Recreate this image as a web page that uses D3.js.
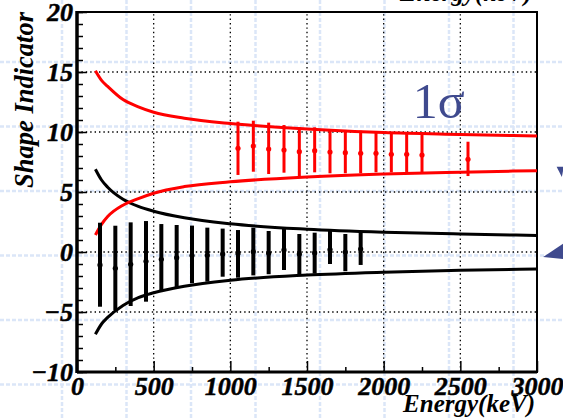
<!DOCTYPE html>
<html>
<head>
<meta charset="utf-8">
<script src="https://cdn.jsdelivr.net/npm/d3@7"></script>
<style>
  body { margin: 0; background: #fff; }
  svg { display: block; }
</style>
</head>
<body>
<div id="chart"></div>
<script>
// curves (energy in keV -> shape indicator)
const curveE = [120, 160, 200, 300, 400, 500, 700, 1000, 1500, 2000, 2500, 3000];
const blackUpper = [6.9, 6.0, 5.4, 4.4, 3.8, 3.4, 2.85, 2.35, 1.9, 1.65, 1.5, 1.38];
const blackLower = [-6.86, -6.0, -5.45, -4.45, -3.8, -3.4, -2.85, -2.35, -1.92, -1.68, -1.52, -1.42];
const redUpper = [15.1, 14.3, 13.8, 12.7, 12.1, 11.65, 11.15, 10.7, 10.25, 9.95, 9.8, 9.67];
const redLower = [1.42, 2.3, 2.95, 3.9, 4.45, 4.9, 5.45, 5.85, 6.25, 6.5, 6.65, 6.78];

// black points with error bars
const blackE = [150, 250, 350, 450, 550, 650, 750, 850, 950, 1050, 1150, 1250, 1350, 1450, 1550, 1650, 1750, 1850];
const blackMid = [-1.08, -1.36, -1.03, -0.78, -0.61, -0.47, -0.3, -0.28, -0.17, -0.14, 0.03, -0.11, 0.17, -0.17, -0.08, 0.2, 0.0, 0.25];
const blackHi = [2.44, 2.19, 2.47, 2.58, 2.33, 2.25, 2.2, 2.03, 1.95, 1.83, 2.03, 1.75, 1.97, 1.5, 1.61, 1.83, 1.5, 1.69];
const blackLo = [-4.56, -4.85, -4.5, -4.14, -3.22, -3.0, -2.6, -2.47, -2.06, -2.14, -1.95, -1.85, -1.5, -1.85, -1.8, -1.0, -1.6, -1.08];

// red points with error bars
const redE = [1050, 1150, 1250, 1350, 1450, 1550, 1650, 1750, 1850, 1950, 2050, 2150, 2250, 2550];
const redMid = [8.64, 8.83, 8.58, 8.5, 8.36, 8.44, 8.33, 8.28, 8.22, 8.22, 8.14, 8.14, 8.08, 7.72];
const redHi = [10.86, 10.94, 10.78, 10.58, 10.39, 10.39, 10.22, 10.17, 10.11, 9.94, 9.89, 9.89, 9.89, 9.19];
const redLo = [6.42, 6.69, 6.5, 6.61, 6.28, 6.64, 6.56, 6.56, 6.56, 6.64, 6.64, 6.67, 6.61, 6.33];

const yTicks = [-10, -5, 0, 5, 10, 15, 20];
const xTicks = [0, 500, 1000, 1500, 2000, 2500, 3000];
const gridY = [-5, 0, 5, 10, 15];
const gridX = [500, 1000, 1500, 2000, 2500];

const W = 563, H = 419;
const margin = {top: 12, right: 26, bottom: 47, left: 77};
const serif = '"Liberation Serif", "Times New Roman", serif';

const svg = d3.select("#chart").append("svg")
    .attr("width", W)
    .attr("height", H);

// slide background: light blue dashed grid
const bg = svg.append("g");
const bgStep = 64.5;
bg.selectAll(".bgv")
    .data(d3.range(62, W, bgStep))
    .join("line")
    .attr("x1", d => d).attr("x2", d => d)
    .attr("y1", 0).attr("y2", H);
bg.selectAll(".bgh")
    .data(d3.range(-2.5, H, bgStep))
    .join("line")
    .attr("y1", d => d).attr("y2", d => d)
    .attr("x1", 0).attr("x2", W);
bg.selectAll("line")
    .attr("stroke", "#dbe6f8")
    .attr("stroke-width", 2.5)
    .attr("stroke-dasharray", "4,2");

const x = d3.scaleLinear().domain([0, 3000]).range([margin.left, W - margin.right]);
const y = d3.scaleLinear().domain([-10, 20]).range([H - margin.bottom, margin.top]);

// dotted grid
svg.append("g").selectAll("line")
    .data(gridY)
    .join("line")
    .attr("x1", x(0)).attr("x2", x(3000))
    .attr("y1", d => y(d)).attr("y2", d => y(d))
    .attr("stroke", "#000").attr("stroke-width", 1.3)
    .attr("stroke-dasharray", "1.4,3");
svg.append("g").selectAll("line")
    .data(gridX)
    .join("line")
    .attr("y1", y(-10)).attr("y2", y(20))
    .attr("x1", d => x(d)).attr("x2", d => x(d))
    .attr("stroke", "#000").attr("stroke-width", 1.3)
    .attr("stroke-dasharray", "1.4,3");

// axes (ticks pointing inward)
const yMinor = svg.append("g")
    .attr("transform", `translate(${x(0)},0)`)
    .call(d3.axisLeft(y).tickValues(d3.range(-10, 21, 1)).tickSize(-6).tickSizeOuter(0).tickFormat(""));
const yAxis = svg.append("g")
    .attr("transform", `translate(${x(0)},0)`)
    .call(d3.axisLeft(y).tickValues(yTicks).tickSize(-10).tickSizeOuter(0).tickPadding(4).tickFormat(d3.format("d")));
const xMinor = svg.append("g")
    .attr("transform", `translate(0,${y(-10)})`)
    .call(d3.axisBottom(x).tickValues(d3.range(250, 3000, 500)).tickSize(-5).tickSizeOuter(0).tickFormat(""));
const xAxis = svg.append("g")
    .attr("transform", `translate(0,${y(-10)})`)
    .call(d3.axisBottom(x).tickValues(xTicks).tickSize(-11).tickSizeOuter(0).tickPadding(5).tickFormat(d3.format("d")));
[yMinor, yAxis, xMinor, xAxis].forEach(g => {
    g.select(".domain").remove();
    g.selectAll(".tick line").attr("stroke", "#000").attr("stroke-width", 1.5);
    g.selectAll(".tick text")
        .attr("fill", "#000")
        .attr("stroke", "#000")
        .attr("stroke-width", 0.5)
        .style("font-family", serif)
        .style("font-weight", "bold")
        .style("font-style", "italic")
        .style("font-size", "26px");
});
yAxis.selectAll(".tick text").attr("dy", "0.34em");

// frame
svg.append("rect")
    .attr("x", x(0)).attr("y", y(20))
    .attr("width", x(3000) - x(0)).attr("height", y(-10) - y(20))
    .attr("fill", "none").attr("stroke", "#000").attr("stroke-width", 2);
svg.append("line")
    .attr("x1", x(0)).attr("x2", x(0)).attr("y1", y(20) - 1).attr("y2", y(-10) + 1)
    .attr("stroke", "#000").attr("stroke-width", 3.5);
svg.append("line")
    .attr("x1", x(0)).attr("x2", x(3000)).attr("y1", y(-10)).attr("y2", y(-10))
    .attr("stroke", "#000").attr("stroke-width", 3);

// envelope curves
const line = d3.line()
    .curve(d3.curveMonotoneX)
    .x(d => x(d[0]))
    .y(d => y(d[1]));
const curves = [
    {vals: blackUpper, color: "#000"},
    {vals: blackLower, color: "#000"},
    {vals: redUpper, color: "#ff0000"},
    {vals: redLower, color: "#ff0000"}
];
svg.append("g").selectAll("path")
    .data(curves)
    .join("path")
    .attr("d", c => line(curveE.map((e, i) => [e, c.vals[i]])))
    .attr("fill", "none")
    .attr("stroke", c => c.color)
    .attr("stroke-width", 3);

// error bars
function drawPoints(E, mid, hi, lo, color, w, r) {
    const pts = E.map((e, i) => ({e: e, m: mid[i], h: hi[i], l: lo[i]}));
    const g = svg.append("g");
    g.selectAll("line")
        .data(pts)
        .join("line")
        .attr("x1", d => x(d.e)).attr("x2", d => x(d.e))
        .attr("y1", d => y(d.h)).attr("y2", d => y(d.l))
        .attr("stroke", color).attr("stroke-width", w);
    g.selectAll("circle")
        .data(pts)
        .join("circle")
        .attr("cx", d => x(d.e)).attr("cy", d => y(d.m))
        .attr("r", r)
        .attr("fill", color);
}
drawPoints(blackE, blackMid, blackHi, blackLo, "#000", 4, 2.6);
drawPoints(redE, redMid, redHi, redLo, "#ff0000", 3, 2.6);

// labels
svg.append("text")
    .attr("transform", `translate(33,100) rotate(-90)`)
    .attr("text-anchor", "middle")
    .style("font-family", serif)
    .style("font-style", "italic").style("font-weight", "bold")
    .style("font-size", "26.5px")
    .text("Shape Indicator");
svg.append("text")
    .attr("x", 535).attr("y", 412)
    .attr("text-anchor", "end")
    .style("font-family", serif)
    .style("font-style", "italic").style("font-weight", "bold")
    .style("font-size", "25px")
    .text("Energy(keV)");
// cut-off copy at the top edge
svg.append("text")
    .attr("x", 532).attr("y", 1)
    .attr("text-anchor", "end")
    .style("font-family", serif)
    .style("font-style", "italic").style("font-weight", "bold")
    .style("font-size", "25px")
    .text("Energy(keV)");

svg.append("text")
    .attr("x", x(2190)).attr("y", y(11.2))
    .style("font-family", serif)
    .style("font-size", "50px")
    .attr("fill", "#3f4a8e")
    .text("1σ");

// partial arrows at the right edge (annotation positions in data units)
const arrows = [
    [[3040, -0.42], [3172, 0.7], [3172, -0.58]],
    [[3128, 7.1], [3175, 7.1], [3162, 6.25]]
];
svg.append("g").selectAll("path")
    .data(arrows)
    .join("path")
    .attr("d", a => "M" + a.map(p => [x(p[0]), y(p[1])].join(",")).join("L") + "Z")
    .attr("fill", "#3f4a8e");
</script>
</body>
</html>
